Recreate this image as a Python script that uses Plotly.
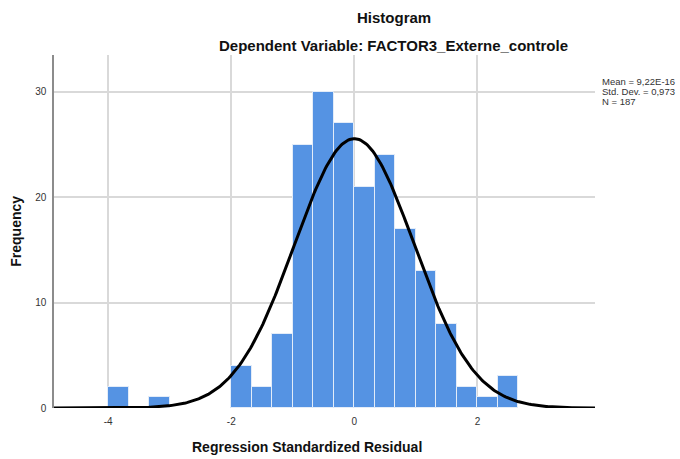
import numpy as np
import plotly.graph_objects as go

# ---- data ----
bin_starts = [-4.0, -3.3333, -2.0, -1.6667, -1.3333, -1.0, -0.6667, -0.3333,
              0.0, 0.3333, 0.6667, 1.0, 1.3333, 1.6667, 2.0, 2.3333]
frequencies = [2, 1, 4, 2, 7, 25, 30, 27, 21, 24, 17, 13, 8, 2, 1, 3]
bin_width = 1.0 / 3.0
mean_val = 9.22e-16
std_dev = 0.973
n_obs = 187
x_ticks = [-4, -2, 0, 2]
y_ticks = [0, 10, 20, 30]
stats_lines = ["Mean = 9,22E-16", "Std. Dev. = 0,973", f"N = {n_obs}"]

# ---- geometry (page pixels) ----
W, H = 680, 459
L, R, T, B = 54, 595, 55, 408.5   # plot area edges

def px(xp):
    return (xp - L) / (R - L)

def py(yp):
    return (B - yp) / (B - T)

centers = [s + bin_width / 2 for s in bin_starts]

# fitted normal curve from the displayed statistics
xc = np.linspace(-4.88, 3.91, 400)
yc = n_obs * bin_width * np.exp(-0.5 * ((xc - mean_val) / std_dev) ** 2) / (std_dev * np.sqrt(2 * np.pi))

fig = go.Figure()
fig.add_trace(go.Bar(
    x=centers, y=frequencies, width=bin_width,
    marker=dict(color="#5593E3", line=dict(color="#E3ECF8", width=1)),
    hoverinfo="x+y", showlegend=False,
))
fig.add_trace(go.Scatter(
    x=xc, y=yc, mode="lines", line=dict(color="black", width=3),
    showlegend=False, hoverinfo="skip", cliponaxis=False,
))

font_family = "Liberation Sans, Arial, sans-serif"

annotations = [
    dict(text="<b>Histogram</b>", xref="paper", yref="paper",
         x=px(394), y=py(17), showarrow=False, xanchor="center", yanchor="middle",
         font=dict(size=15, color="#111111")),
    dict(text="<b>Dependent Variable: FACTOR3_Externe_controle</b>", xref="paper", yref="paper",
         x=px(393), y=py(45), showarrow=False, xanchor="center", yanchor="middle",
         font=dict(size=15, color="#111111")),
    dict(text="<b>Regression Standardized Residual</b>", xref="paper", yref="paper",
         x=px(307), y=py(448), showarrow=False, xanchor="center", yanchor="middle",
         font=dict(size=14, color="#111111")),
    dict(text="<b>Frequency</b>", xref="paper", yref="paper", textangle=-90,
         x=px(16), y=py(232), showarrow=False, xanchor="center", yanchor="middle",
         font=dict(size=14, color="#111111")),
]
for i, line in enumerate(stats_lines):
    annotations.append(dict(
        text=line, xref="paper", yref="paper", x=px(600), y=py(82 + 10 * i),
        showarrow=False, xanchor="left", yanchor="middle", align="left",
        font=dict(size=9.5, color="#333333")))

fig.update_layout(
    width=W, height=H,
    margin=dict(l=L, r=W - R, t=T, b=H - B),
    paper_bgcolor="white", plot_bgcolor="white",
    font=dict(family=font_family, color="#333333", size=10),
    bargap=0,
    xaxis=dict(
        range=[-4.88, 3.91], tickvals=x_ticks, ticktext=["-4", "-2", "0", "2"],
        showgrid=True, gridcolor="#D9D9D9", gridwidth=2, automargin=False,
        zeroline=False, showline=False, ticks="", ticklabelstandoff=6,
        tickfont=dict(size=10, color="#333333"),
    ),
    yaxis=dict(
        range=[0, 33.5], tickvals=y_ticks, automargin=False,
        showgrid=True, gridcolor="#D9D9D9", gridwidth=2,
        zeroline=False, showline=True, linecolor="#8C8C8C", linewidth=1.5,
        ticks="", ticklabelstandoff=4, tickfont=dict(size=10, color="#333333"),
    ),
    annotations=annotations,
)

fig.write_html(
    "out.html",
    config={"displayModeBar": False},
    post_script="document.body.style.margin='0';document.body.style.overflow='hidden';",
)
